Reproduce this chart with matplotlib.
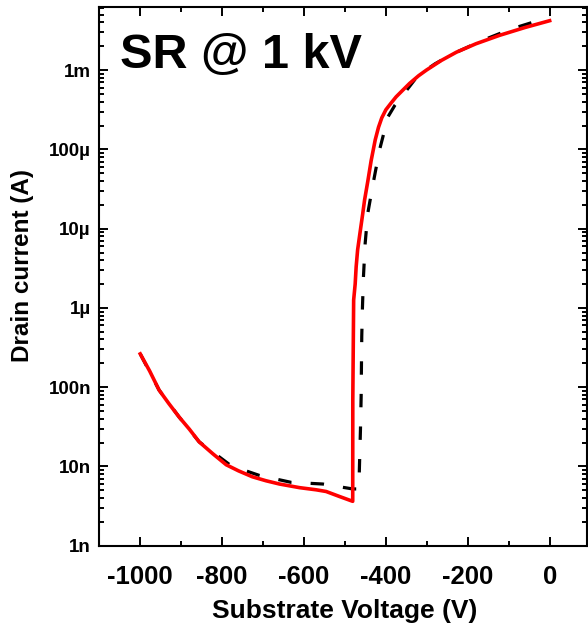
import numpy as np
import matplotlib
matplotlib.use("Agg")
import matplotlib.pyplot as plt
from matplotlib.ticker import FixedLocator, LogLocator, NullFormatter, MultipleLocator

plt.rcParams['font.family'] = ['Liberation Sans', 'DejaVu Sans']
plt.rcParams['font.weight'] = 'bold'

# measured curve (red, solid)
v_meas = [-1000, -977, -954, -930, -905, -880, -856, -823, -790, -760, -726, -693,
          -660, -611, -570, -546, -513, -481,
          -480.8, -478.7, -475, -472.6, -469, -463, -456.5, -452, -444, -436, -426,
          -418, -410, -400, -388, -375, -360, -342, -320, -301, -265, -228, -180,
          -122, -60, 0]
i_meas = [2.63e-7, 1.6e-7, 9.2e-8, 6.2e-8, 4.2e-8, 2.95e-8, 2.04e-8, 1.45e-8, 1.05e-8,
          8.8e-9, 7.4e-9, 6.6e-9, 6.0e-9, 5.4e-9, 5.07e-9, 4.83e-9, 4.17e-9, 3.63e-9,
          6.9e-8, 1.26e-6, 2.0e-6, 3.3e-6, 5.4e-6, 9.0e-6, 1.55e-5, 2.3e-5, 4.0e-5,
          7.2e-5, 1.32e-4, 1.9e-4, 2.5e-4, 3.16e-4, 3.8e-4, 4.6e-4, 5.5e-4, 6.8e-4,
          8.5e-4, 1.0e-3, 1.32e-3, 1.68e-3, 2.15e-3, 2.75e-3, 3.45e-3, 4.2e-3]

# simulated curve (black, dashed)
v_sim = [-1000, -954, -905, -856, -778, -709, -631.5, -554, -481, -466,
         -464.5, -462.1, -460.4, -459.7, -458.9, -457.2, -454.8, -450.6, -444.3,
         -432.8, -415.6, -405, -395, -378, -359, -322, -280, -237, -200, -167,
         -94, -16, 0]
i_sim = [2.63e-7, 9.2e-8, 4.2e-8, 2.04e-8, 1.02e-8, 7.7e-9, 6.3e-9, 6.0e-9, 5.2e-9, 5.2e-9,
         1.02e-8, 2.9e-8, 7.6e-8, 1.8e-7, 4.4e-7, 1.02e-6, 2.45e-6, 6.5e-6, 1.55e-5,
         3.35e-5, 9.8e-5, 1.6e-4, 2.57e-4, 3.6e-4, 4.8e-4, 8.5e-4, 1.2e-3, 1.6e-3,
         1.95e-3, 2.34e-3, 3.3e-3, 4.4e-3, 4.7e-3]

y_ticks = [1e-9, 1e-8, 1e-7, 1e-6, 1e-5, 1e-4, 1e-3]
y_labels = ['1n', '10n', '100n', '1µ', '10µ', '100µ', '1m']
x_ticks = [-1000, -800, -600, -400, -200, 0]

fig = plt.figure(figsize=(5.88, 6.30), dpi=100)
ax = fig.add_axes([99.3 / 588, 1 - 545.7 / 630, 488 / 588, 538.4 / 630])

ax.plot(v_sim, i_sim, color='black', lw=2.3, dashes=(4.2, 6.0), zorder=2)
ax.plot(v_meas, i_meas, color='#ff0000', lw=2.6, zorder=3)

ax.set_yscale('log')
ax.set_xlim(-1100, 92)
ax.set_ylim(1e-9, 6.2e-3)

ax.yaxis.set_major_locator(FixedLocator(y_ticks))
ax.set_yticklabels(y_labels)
ax.yaxis.set_minor_locator(LogLocator(base=10, subs=np.arange(2, 10)))
ax.yaxis.set_minor_formatter(NullFormatter())
ax.set_xticks(x_ticks)
ax.set_xticklabels([str(t) for t in x_ticks])
ax.xaxis.set_minor_locator(MultipleLocator(100))

ax.tick_params(which='both', direction='in', top=True, right=True, width=1.4)
ax.tick_params(which='major', length=6.5)
ax.tick_params(which='minor', length=3.5)
ax.tick_params(axis='x', which='major', labelsize=18.5, pad=14)
ax.tick_params(axis='y', which='major', labelsize=13.5, pad=6)
for s in ax.spines.values():
    s.set_linewidth(1.5)

ax.text(0.042, 0.887, 'SR @ 1 kV', transform=ax.transAxes, fontsize=35,
        fontweight='bold', va='baseline', ha='left')

fig.text(345 / 588, 1 - 611 / 630, 'Substrate Voltage (V)', fontsize=19,
         fontweight='bold', ha='center', va='center')
fig.text(23 / 588, 1 - 265 / 630, 'Drain current (A)', fontsize=17.5,
         fontweight='bold', ha='center', va='center', rotation=90)

fig.savefig('out.png', dpi=100)
